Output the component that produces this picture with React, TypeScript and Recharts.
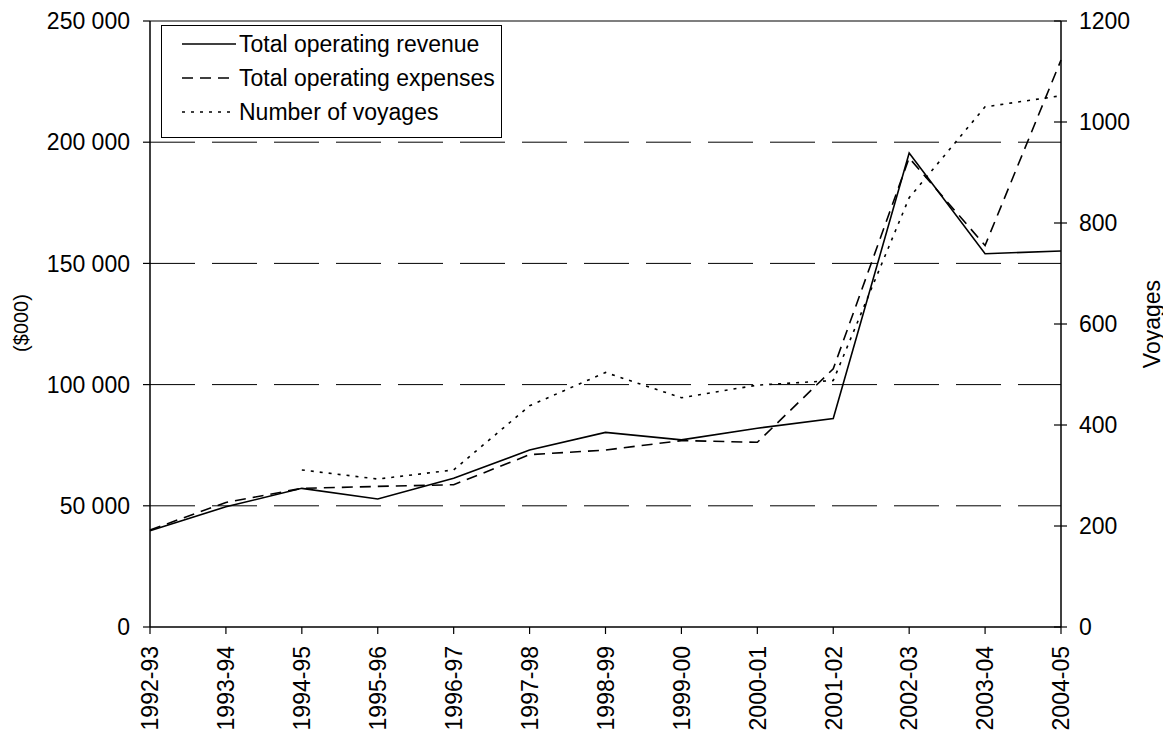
import React from "react";
import {
  CartesianGrid,
  Legend,
  Line,
  LineChart,
  ReferenceLine,
  XAxis,
  YAxis,
} from "recharts";

const PERIODS = [
  "1992-93",
  "1993-94",
  "1994-95",
  "1995-96",
  "1996-97",
  "1997-98",
  "1998-99",
  "1999-00",
  "2000-01",
  "2001-02",
  "2002-03",
  "2003-04",
  "2004-05",
];

// $000
const REVENUE = [
  39700, 49600, 57200, 52800, 61400, 73000, 80300, 77200, 82000, 86000, 195500,
  154000, 155100,
];
const EXPENSES = [
  40000, 51400, 57200, 58000, 58700, 71100, 73000, 76900, 76200, 106500,
  193500, 157400, 233900,
];
const VOYAGES: (number | null)[] = [
  null, null, 311, 293, 311, 438, 504, 454, 479, 488, 850, 1030, 1052,
];

const MONEY_TICKS = [0, 50000, 100000, 150000, 200000, 250000];
const GRID_VALUES = [50000, 100000, 150000, 200000];
const VOYAGE_TICKS = [0, 200, 400, 600, 800, 1000, 1200];

const SERIES = [
  { key: "revenue", label: "Total operating revenue", dash: undefined },
  { key: "expenses", label: "Total operating expenses", dash: "11 7" },
  { key: "voyages", label: "Number of voyages", dash: "3 6" },
];

const FONT = '"Liberation Sans", Arial, sans-serif';
const INK = "#000";

const data = PERIODS.map((period, i) => ({
  period,
  revenue: REVENUE[i],
  expenses: EXPENSES[i],
  voyages: VOYAGES[i],
}));

const formatThousands = (v: number) =>
  v === 0 ? "0" : `${Math.floor(v / 1000)} ${String(v % 1000).padStart(3, "0")}`;

const PeriodTick = ({ x, y, payload }: any) => (
  <text
    x={x}
    y={y}
    dy="0.36em"
    transform={`rotate(-90 ${x} ${y})`}
    textAnchor="end"
    fontSize={23}
    fontFamily={FONT}
    fill={INK}
  >
    {payload.value}
  </text>
);

// right axis ticks cross the axis line
const VoyageTick = ({ x, y, payload }: any) => (
  <g>
    <line x1={x - 7} x2={x + 6} y1={y} y2={y} stroke={INK} strokeWidth={1.2} />
    <text
      x={x + 18}
      y={y}
      dy="0.36em"
      textAnchor="start"
      fontSize={23}
      fontFamily={FONT}
      fill={INK}
    >
      {payload.value}
    </text>
  </g>
);

const LegendBox = () => (
  <div
    style={{
      border: "1px solid #000",
      width: 339,
      height: 110,
      paddingTop: 1,
      boxSizing: "content-box",
      background: "#fff",
      fontFamily: FONT,
      fontSize: 23,
      color: INK,
    }}
  >
    {SERIES.map((s) => (
      <div
        key={s.key}
        style={{ display: "flex", alignItems: "center", height: 34, lineHeight: "34px" }}
      >
        <svg width={77} height={34} style={{ flex: "none" }}>
          <line
            x1={20}
            x2={74}
            y1={17}
            y2={17}
            stroke={INK}
            strokeWidth={1.6}
            strokeDasharray={s.dash}
          />
        </svg>
        <span style={{ whiteSpace: "nowrap" }}>{s.label}</span>
      </div>
    ))}
  </div>
);

export default function App() {
  return (
    <div style={{ width: 1163, height: 725, fontFamily: FONT }}>
      <LineChart
        width={1163}
        height={725}
        data={data}
        margin={{ top: 13, right: 30, bottom: 6, left: 62 }}
      >
        <CartesianGrid
          yAxisId="money"
          vertical={false}
          horizontalValues={GRID_VALUES}
          stroke={INK}
          strokeWidth={1}
          strokeDasharray="45 17"
        />
        <XAxis
          dataKey="period"
          height={100}
          interval={0}
          tickSize={7}
          tickMargin={12}
          axisLine={{ stroke: INK, strokeWidth: 1.5 }}
          tickLine={{ stroke: INK, strokeWidth: 1.2 }}
          tick={<PeriodTick />}
        />
        <YAxis
          yAxisId="money"
          orientation="left"
          width={80}
          domain={[0, 250000]}
          ticks={MONEY_TICKS}
          interval={0}
          tickFormatter={formatThousands}
          tickSize={7}
          tickMargin={13}
          axisLine={{ stroke: INK, strokeWidth: 1.5 }}
          tickLine={{ stroke: INK, strokeWidth: 1.2 }}
          tick={{ fontSize: 23, fill: INK, fontFamily: FONT }}
          label={{
            content: () => (
              <text
                x={20}
                y={315}
                transform="rotate(-90 20 315)"
                textAnchor="middle"
                fontSize={20}
                fontFamily={FONT}
                fill={INK}
              >
                ($000)
              </text>
            ),
          }}
        />
        <YAxis
          yAxisId="voyages"
          orientation="right"
          width={80}
          domain={[0, 1200]}
          ticks={VOYAGE_TICKS}
          interval={0}
          tickSize={0}
          tickMargin={0}
          tickLine={false}
          axisLine={{ stroke: INK, strokeWidth: 1.5 }}
          tick={<VoyageTick />}
          label={{
            content: () => (
              <text
                x={1152}
                y={316}
                transform="rotate(-90 1152 316)"
                textAnchor="middle"
                fontSize={23}
                fontFamily={FONT}
                fill={INK}
              >
                Voyages
              </text>
            ),
          }}
        />
        <ReferenceLine yAxisId="money" y={250000} stroke={INK} strokeWidth={1.2} />
        <Legend
          layout="vertical"
          align="center"
          verticalAlign="middle"
          content={<LegendBox />}
          wrapperStyle={{ left: 153, top: 17, width: "auto", height: "auto" }}
        />
        <Line
          yAxisId="money"
          type="linear"
          dataKey="revenue"
          name="Total operating revenue"
          stroke={INK}
          strokeWidth={1.6}
          dot={false}
          activeDot={false}
          isAnimationActive={false}
        />
        <Line
          yAxisId="money"
          type="linear"
          dataKey="expenses"
          name="Total operating expenses"
          stroke={INK}
          strokeWidth={1.6}
          strokeDasharray="11 7"
          dot={false}
          activeDot={false}
          isAnimationActive={false}
        />
        <Line
          yAxisId="voyages"
          type="linear"
          dataKey="voyages"
          name="Number of voyages"
          stroke={INK}
          strokeWidth={1.6}
          strokeDasharray="3 6"
          dot={false}
          activeDot={false}
          isAnimationActive={false}
        />
      </LineChart>
    </div>
  );
}
